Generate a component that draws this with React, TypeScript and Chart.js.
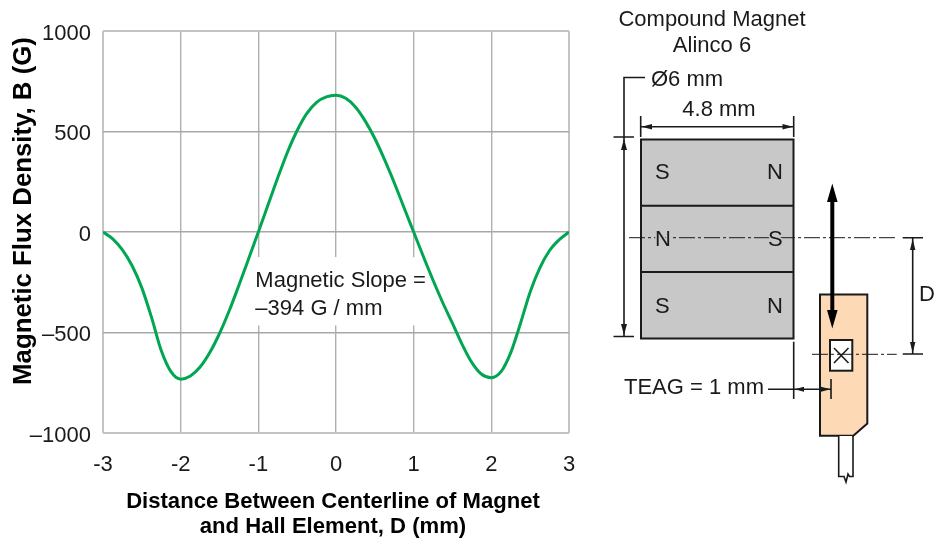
import React, { useEffect, useRef } from "react";
import { Chart, registerables } from "chart.js";

Chart.register(...registerables);

const distanceMm = [-3, -2.875, -2.75, -2.625, -2.5, -2.375, -2.25, -2.125, -2, -1.875, -1.75, -1.625, -1.5, -1.375, -1.25, -1.125, -1, -0.875, -0.75, -0.625, -0.5, -0.375, -0.25, -0.125, 0, 0.125, 0.25, 0.375, 0.5, 0.625, 0.75, 0.875, 1, 1.125, 1.25, 1.375, 1.5, 1.625, 1.75, 1.875, 2, 2.125, 2.25, 2.375, 2.5, 2.625, 2.75, 2.875, 3];
const fluxGauss = [0, -34, -89, -168, -278, -425, -590, -695, -732, -716, -672, -600, -505, -392, -265, -133, 0, 135, 270, 397, 505, 590, 645, 672, 680, 665, 622, 553, 465, 360, 245, 122, 0, -122, -240, -352, -455, -560, -650, -708, -725, -695, -600, -455, -298, -178, -92, -38, 0];
const xTicks = [-3, -2, -1, 0, 1, 2, 3];
const yTitle = "Magnetic Flux Density, B (G)";
const xTitleLines = ["Distance Between Centerline of Magnet", "and Hall Element, D (mm)"];
const slopeLines = ["Magnetic Slope =", "–394 G / mm"];

const FONT = '"Liberation Sans", Arial, sans-serif';
const INK = "#1a1a1a";

const annotations = {
  id: "annotations",
  beforeDatasetsDraw(chart: any) {
    const { ctx } = chart;
    const x = chart.scales.x;
    const y = chart.scales.y;
    // white label box masks the grid only; the curve runs over it
    const left = x.getPixelForValue(-1.05);
    const right = x.getPixelForValue(1.2);
    const top = y.getPixelForValue(-125);
    const bottom = y.getPixelForValue(-465);
    ctx.save();
    ctx.fillStyle = "#ffffff";
    ctx.fillRect(left, top, right - left, bottom - top);
    ctx.restore();
  },
  afterDatasetsDraw(chart: any) {
    const { ctx } = chart;
    const x = chart.scales.x;
    ctx.save();
    ctx.fillStyle = INK;
    ctx.font = `22px ${FONT}`;
    ctx.textAlign = "left";
    ctx.textBaseline = "alphabetic";
    const tx = x.getPixelForValue(-1) - 3;
    ctx.fillText(slopeLines[0], tx, 287);
    ctx.fillText(slopeLines[1], tx, 315);
    ctx.restore();
  },
  afterDraw(chart: any) {
    const { ctx } = chart;
    ctx.save();
    ctx.fillStyle = "#000000";
    ctx.font = `bold 25.8px ${FONT}`;
    ctx.textAlign = "center";
    ctx.textBaseline = "alphabetic";
    ctx.translate(30.5, 211);
    ctx.rotate(-Math.PI / 2);
    ctx.fillText(yTitle, 0, 0);
    ctx.restore();
    ctx.save();
    ctx.fillStyle = "#000000";
    ctx.font = `bold 22.1px ${FONT}`;
    ctx.textAlign = "center";
    ctx.fillText(xTitleLines[0], 333, 508);
    ctx.fillText(xTitleLines[1], 333, 533);
    ctx.restore();
  },
};

const Diagram = () => {
  const txt = { fontFamily: FONT, fontSize: 22, fill: INK };
  const thin = { stroke: INK, strokeWidth: 1.6, fill: "none" };
  return (
    <svg width={935} height={542} style={{ position: "absolute", left: 0, top: 0 }}>
      <text x={712} y={26} textAnchor="middle" {...txt}>Compound Magnet</text>
      <text x={712} y={52} textAnchor="middle" {...txt}>Alinco 6</text>
      <text x={651} y={86} {...txt}>Ø6 mm</text>
      <text x={719} y={116} textAnchor="middle" {...txt}>4.8 mm</text>

      <rect x={641} y={139.5} width={152.5} height={199} fill="#c8c8c8" stroke={INK} strokeWidth={2} />
      <line x1={641} y1={205.7} x2={793.5} y2={205.7} stroke={INK} strokeWidth={2} />
      <line x1={641} y1={272} x2={793.5} y2={272} stroke={INK} strokeWidth={2} />
      <text x={655} y={179} {...txt}>S</text>
      <text x={767} y={179} {...txt}>N</text>
      <text x={655} y={313} {...txt}>S</text>
      <text x={767} y={313} {...txt}>N</text>

      <path d="M645 77.5H624V137" {...thin} />
      <path d="M613.5 137H634M613.5 336.5H634M624 137V336.5" {...thin} />
      <path d="M624 139L621 150H627ZM624 335L621 324H627Z" fill={INK} />
      <path d="M640.7 116V137M793.7 116V137M641 126.7H793" {...thin} />
      <path d="M641.5 126.7L652 124V129.4ZM793 126.7L782.5 124V129.4Z" fill={INK} />

      <path d="M820 294.5H867.3V423.5L853.3 435.7H820Z" fill="#fdd9b5" stroke={INK} strokeWidth={2} />
      <path d="M838.7 436V476.5H844L846 482L848 474L849.5 476.5H853V436" fill="#ffffff" stroke={INK} strokeWidth={1.6} />
      <rect x={830} y={340} width={22.3} height={30.7} fill="#ffffff" stroke={INK} strokeWidth={2} />
      <path d="M834 348L848.5 363M848.5 348L834 363" {...thin} />

      <line x1={629} y1={237.7} x2={896.7} y2={237.7} stroke={INK} strokeWidth={1} strokeDasharray="16 3 3 3" />
      <line x1={812} y1={354.3} x2={896.7} y2={354.3} stroke={INK} strokeWidth={1} strokeDasharray="16 3 3 3" />

      <text x={655} y={246} {...txt} style={{ paintOrder: "stroke" }} stroke="#c8c8c8" strokeWidth={3}>N</text>
      <text x={768} y={246} {...txt} style={{ paintOrder: "stroke" }} stroke="#c8c8c8" strokeWidth={3}>S</text>

      <line x1={832.3} y1={198} x2={832.3} y2={314} stroke="#000" strokeWidth={4} />
      <path d="M832.3 183.5L827 202H837.6ZM832.3 328.5L827 310H837.6Z" fill="#000" />

      <path d="M902.7 237.7H923M902.7 354H923M912.7 238V354" {...thin} />
      <path d="M912.7 239L910 250H915.4ZM912.7 353L910 342H915.4Z" fill={INK} />
      <text x={919} y={300.5} {...txt}>D</text>

      <text x={624} y={394} {...txt}>TEAG = 1 mm</text>
      <path d="M768 389.3H831M793.7 341.7V399M831 379V399" {...thin} />
      <path d="M794.5 389.3L804 386.8V391.8ZM830.5 389.3L821 386.8V391.8Z" fill={INK} />
    </svg>
  );
};

export default function App() {
  const ref = useRef<HTMLCanvasElement>(null);
  useEffect(() => {
    const chart = new Chart(ref.current as HTMLCanvasElement, {
      type: "line",
      data: {
        datasets: [
          {
            data: distanceMm.map((d, i) => ({ x: d, y: fluxGauss[i] })),
            borderColor: "#00a651",
            borderWidth: 3,
            pointRadius: 0,
            cubicInterpolationMode: "monotone",
            fill: false,
          },
        ],
      },
      options: {
        animation: false,
        responsive: false,
        layout: { padding: { left: 0, right: 366, top: 31, bottom: 0 } },
        plugins: { legend: { display: false }, title: { display: false }, tooltip: { enabled: false } },
        scales: {
          x: {
            type: "linear",
            min: -3,
            max: 3,
            afterBuildTicks: (s: any) => { s.ticks = xTicks.map((value) => ({ value })); },
            afterFit: (s: any) => { s.height = 109; },
            border: { display: false },
            grid: {
              drawTicks: false,
              color: (c: any) => (Math.abs(c.tick.value) === 3 ? "#c4c4c4" : "#b0b0b0"),
              lineWidth: (c: any) => (Math.abs(c.tick.value) === 3 ? 2 : 1.4),
            },
            ticks: {
              padding: 19,
              color: INK,
              font: { family: FONT, size: 22 },
              maxRotation: 0,
              callback: (v: any) => String(v),
            },
          },
          y: {
            min: -1000,
            max: 1000,
            afterFit: (s: any) => { s.width = 103; },
            border: { display: false },
            grid: {
              drawTicks: false,
              color: (c: any) => (Math.abs(c.tick.value) === 1000 ? "#c4c4c4" : "#a8a8a8"),
              lineWidth: (c: any) => (Math.abs(c.tick.value) === 1000 ? 2 : 1.4),
            },
            ticks: {
              stepSize: 500,
              padding: 12,
              labelOffset: 2.5,
              color: INK,
              font: { family: FONT, size: 22 },
              callback: (v: any) => String(v).replace("-", "–"),
            },
          },
        },
      },
      plugins: [annotations],
    } as any);
    return () => chart.destroy();
  }, []);
  return (
    <div style={{ position: "absolute", left: 0, top: 0, width: 935, height: 542, background: "#fff", overflow: "hidden" }}>
      <canvas ref={ref} width={935} height={542} style={{ position: "absolute", left: 0, top: 0 }} />
      <Diagram />
    </div>
  );
}
